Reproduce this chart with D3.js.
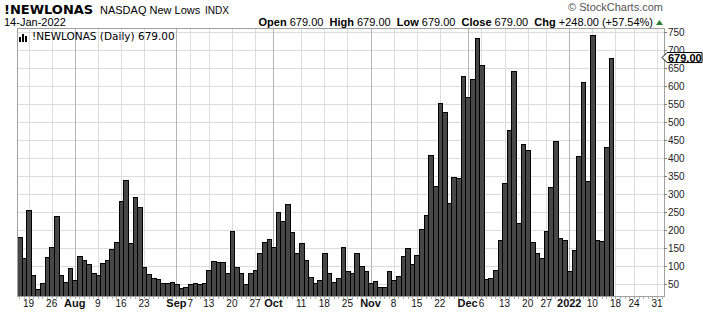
<!DOCTYPE html>
<html lang="en">
<head>
<meta charset="UTF-8">
<title>!NEWLONAS NASDAQ New Lows</title>
<script src="https://d3js.org/d3.v7.min.js"></script>
<style>
  body { margin: 0; background: #fff; }
  svg { display: block; font-family: "Liberation Sans", Arial, sans-serif; }
</style>
</head>
<body>
<svg width="703" height="316"></svg>
<script>
// daily new lows, 15-Jul-2021 .. 14-Jan-2022 (one value per trading day)
const newLows = [
  180, 121, 255, 74, 35, 52, 124, 152, 238, 74, 55, 94,
  60, 127, 116, 105, 80, 74, 107, 116, 146, 166, 280, 338, 163, 291, 263, 96, 77, 67, 63, 52, 52, 55,
  49, 40, 43, 49, 52, 49, 52, 88, 113, 110, 110, 80, 196, 96, 80, 49, 80, 88, 135, 166, 174,
  152, 249, 224, 271, 194, 135, 163, 116, 69, 52, 60, 135, 80, 55, 66, 152, 85, 80, 135, 100, 85,
  53, 57, 41, 41, 85, 60, 72, 127, 149, 105, 130, 202, 241, 407, 321, 552, 527, 274, 346, 344, 627,
  569, 619, 732, 657, 63, 66, 88, 171, 330, 477, 641, 219, 438, 421, 166, 135, 121, 196, 319, 446, 177, 171,
  85, 144, 405, 610, 335, 741, 171, 169, 431, 679
];

// market holidays inside the window
const holidays = ["2021-09-06", "2021-11-25", "2021-12-24", "2022-01-17"];
const firstDay = "2021-07-15";
const lastSlot = "2022-02-01";

// labelled x ticks
const tickDates = ["2021-07-19", "2021-07-26", "2021-08-02", "2021-08-09", "2021-08-16", "2021-08-23",
  "2021-09-01", "2021-09-07", "2021-09-13", "2021-09-20", "2021-09-27", "2021-10-01", "2021-10-11",
  "2021-10-18", "2021-10-25", "2021-11-01", "2021-11-08", "2021-11-15", "2021-11-22", "2021-12-01",
  "2021-12-06", "2021-12-13", "2021-12-20", "2021-12-27", "2022-01-03", "2022-01-10", "2022-01-18",
  "2022-01-24", "2022-01-31"];
const tickLabels = ["19", "26", "Aug", "9", "16", "23", "Sep", "7", "13", "20", "27", "Oct", "11",
  "18", "25", "Nov", "8", "15", "22", "Dec", "6", "13", "20", "27", "2022", "10", "18", "24", "31"];
const monthTicks = ["Aug", "Sep", "Oct", "Nov", "Dec", "2022"];

const yTicks = [50, 100, 150, 200, 250, 300, 350, 400, 450, 500, 550, 600, 650, 700, 750];

// build trading-day slots (weekdays minus holidays)
const fmt = d3.utcFormat("%Y-%m-%d");
const slots = d3.utcDays(new Date(firstDay), d3.utcDay.offset(new Date(lastSlot), 1))
  .filter(d => d.getUTCDay() !== 0 && d.getUTCDay() !== 6)
  .map(fmt)
  .filter(s => !holidays.includes(s));

const data = newLows.map((v, i) => ({date: slots[i], value: v}));
const last = newLows[newLows.length - 1];

const svg = d3.select("svg");
const plotL = 17, plotR = 664, plotT = 28, plotB = 296;

const x = d3.scaleBand().domain(slots).range([plotL, plotR]).padding(0);
const y = d3.scaleLinear().domain([0, 750]).range([302, 32]);

// grid
const grid = svg.append("g");
grid.selectAll("line.h")
  .data(yTicks)
  .join("line")
  .attr("x1", plotL).attr("x2", plotR)
  .attr("y1", d => Math.round(y(d)) + 0.5)
  .attr("y2", d => Math.round(y(d)) + 0.5)
  .attr("stroke", "#dcdcdc");

grid.selectAll("line.v")
  .data(tickDates)
  .join("line")
  .attr("x1", d => Math.round(x(d) + x.bandwidth() / 2) + 0.5)
  .attr("x2", d => Math.round(x(d) + x.bandwidth() / 2) + 0.5)
  .attr("y1", plotT).attr("y2", plotB)
  .attr("stroke", (d, i) => monthTicks.includes(tickLabels[i]) ? "#b4b4b4" : "#dcdcdc");

// bars
const px = v => Math.round(v);
svg.append("g")
  .selectAll("rect")
  .data(data)
  .join("rect")
  .attr("x", d => px(x(d.date)) + 0.5)
  .attr("width", d => px(x(d.date) + x.bandwidth()) - px(x(d.date)))
  .attr("y", d => px(y(d.value)) + 0.5)
  .attr("height", d => plotB - px(y(d.value)))
  .attr("fill", "#474747")
  .attr("stroke", "#000")
  .attr("stroke-width", 1);

// frame
svg.append("rect")
  .attr("x", plotL + 0.5).attr("y", plotT + 0.5)
  .attr("width", plotR - plotL).attr("height", plotB - plotT)
  .attr("fill", "none")
  .attr("stroke", "#a0a0a0");

// day marks under the axis
svg.append("g")
  .selectAll("line")
  .data(slots)
  .join("line")
  .attr("x1", d => Math.round(x(d) + x.bandwidth() / 2) + 0.5)
  .attr("x2", d => Math.round(x(d) + x.bandwidth() / 2) + 0.5)
  .attr("y1", plotB + 1).attr("y2", plotB + 3)
  .attr("stroke", "#b0b0b0");

// y axis on the right
const yAxis = svg.append("g");
yAxis.selectAll("line")
  .data(yTicks)
  .join("line")
  .attr("x1", plotR).attr("x2", plotR + 3)
  .attr("y1", d => Math.round(y(d)) + 0.5)
  .attr("y2", d => Math.round(y(d)) + 0.5)
  .attr("stroke", "#808080");
yAxis.selectAll("text")
  .data(yTicks)
  .join("text")
  .attr("x", plotR + 4)
  .attr("y", d => y(d) + 3.5)
  .attr("font-size", "10px")
  .attr("fill", "#222")
  .text(d => d);

// x labels
svg.append("g")
  .selectAll("text")
  .data(tickDates)
  .join("text")
  .attr("x", d => x(d) + x.bandwidth() / 2)
  .attr("y", 307)
  .attr("text-anchor", "middle")
  .attr("font-size", (d, i) => monthTicks.includes(tickLabels[i]) ? "11px" : "10px")
  .attr("font-weight", (d, i) => monthTicks.includes(tickLabels[i]) ? "bold" : "normal")
  .attr("fill", "#111")
  .text((d, i) => tickLabels[i]);

// last value marker
const my = y(last);
const marker = svg.append("g");
marker.append("path")
  .attr("d", `M${plotR - 2},${my} L${plotR + 3},${my - 5} L${plotR + 38},${my - 5} L${plotR + 38},${my + 5} L${plotR + 3},${my + 5} Z`)
  .attr("fill", "#fff")
  .attr("stroke", "#000");
marker.append("text")
  .attr("x", plotR + 4)
  .attr("y", my + 4)
  .attr("font-size", "11px")
  .attr("font-weight", "bold")
  .text(last.toFixed(2));

// header
svg.append("text")
  .attr("x", 4).attr("y", 14)
  .attr("font-family", "'DejaVu Sans', sans-serif")
  .attr("font-size", "13px")
  .attr("font-weight", "bold")
  .text("!NEWLONAS");
svg.append("text")
  .attr("x", 100).attr("y", 14)
  .attr("font-size", "11px")
  .text("NASDAQ New Lows");
svg.append("text")
  .attr("x", 205).attr("y", 14)
  .attr("font-size", "10px")
  .text("INDX");
svg.append("text")
  .attr("x", 4).attr("y", 26)
  .attr("font-size", "11px")
  .text("14-Jan-2022");
svg.append("text")
  .attr("x", 663).attr("y", 11)
  .attr("text-anchor", "end")
  .attr("font-size", "11px")
  .attr("fill", "#555")
  .text("\u00A9 StockCharts.com");

const quote = [["Open", "679.00"], ["High", "679.00"], ["Low", "679.00"], ["Close", "679.00"], ["Chg", "+248.00 (+57.54%)"]];
const qt = svg.append("text")
  .attr("x", 653).attr("y", 26)
  .attr("text-anchor", "end")
  .attr("font-size", "11px")
  .style("white-space", "pre");
quote.forEach(([k, v], i) => {
  qt.append("tspan").attr("font-weight", "bold").text((i ? "  " : "") + k + " ");
  qt.append("tspan").text(v);
});
svg.append("path")
  .attr("d", "M656,25 L663,25 L659.5,20 Z")
  .attr("fill", "#2e7d32");

// legend inside the plot
const icon = svg.append("g").attr("fill", "#000");
[[19, 37, 2, 5], [22, 34, 2, 8], [25, 36, 2, 6]].forEach(r =>
  icon.append("rect").attr("x", r[0]).attr("y", r[1]).attr("width", r[2]).attr("height", r[3]));
svg.append("text")
  .attr("x", 32).attr("y", 40)
  .attr("font-family", "'DejaVu Sans', sans-serif")
  .attr("font-size", "10.5px")
  .text("!NEWLONAS (Daily) " + last.toFixed(2));
</script>
</body>
</html>
